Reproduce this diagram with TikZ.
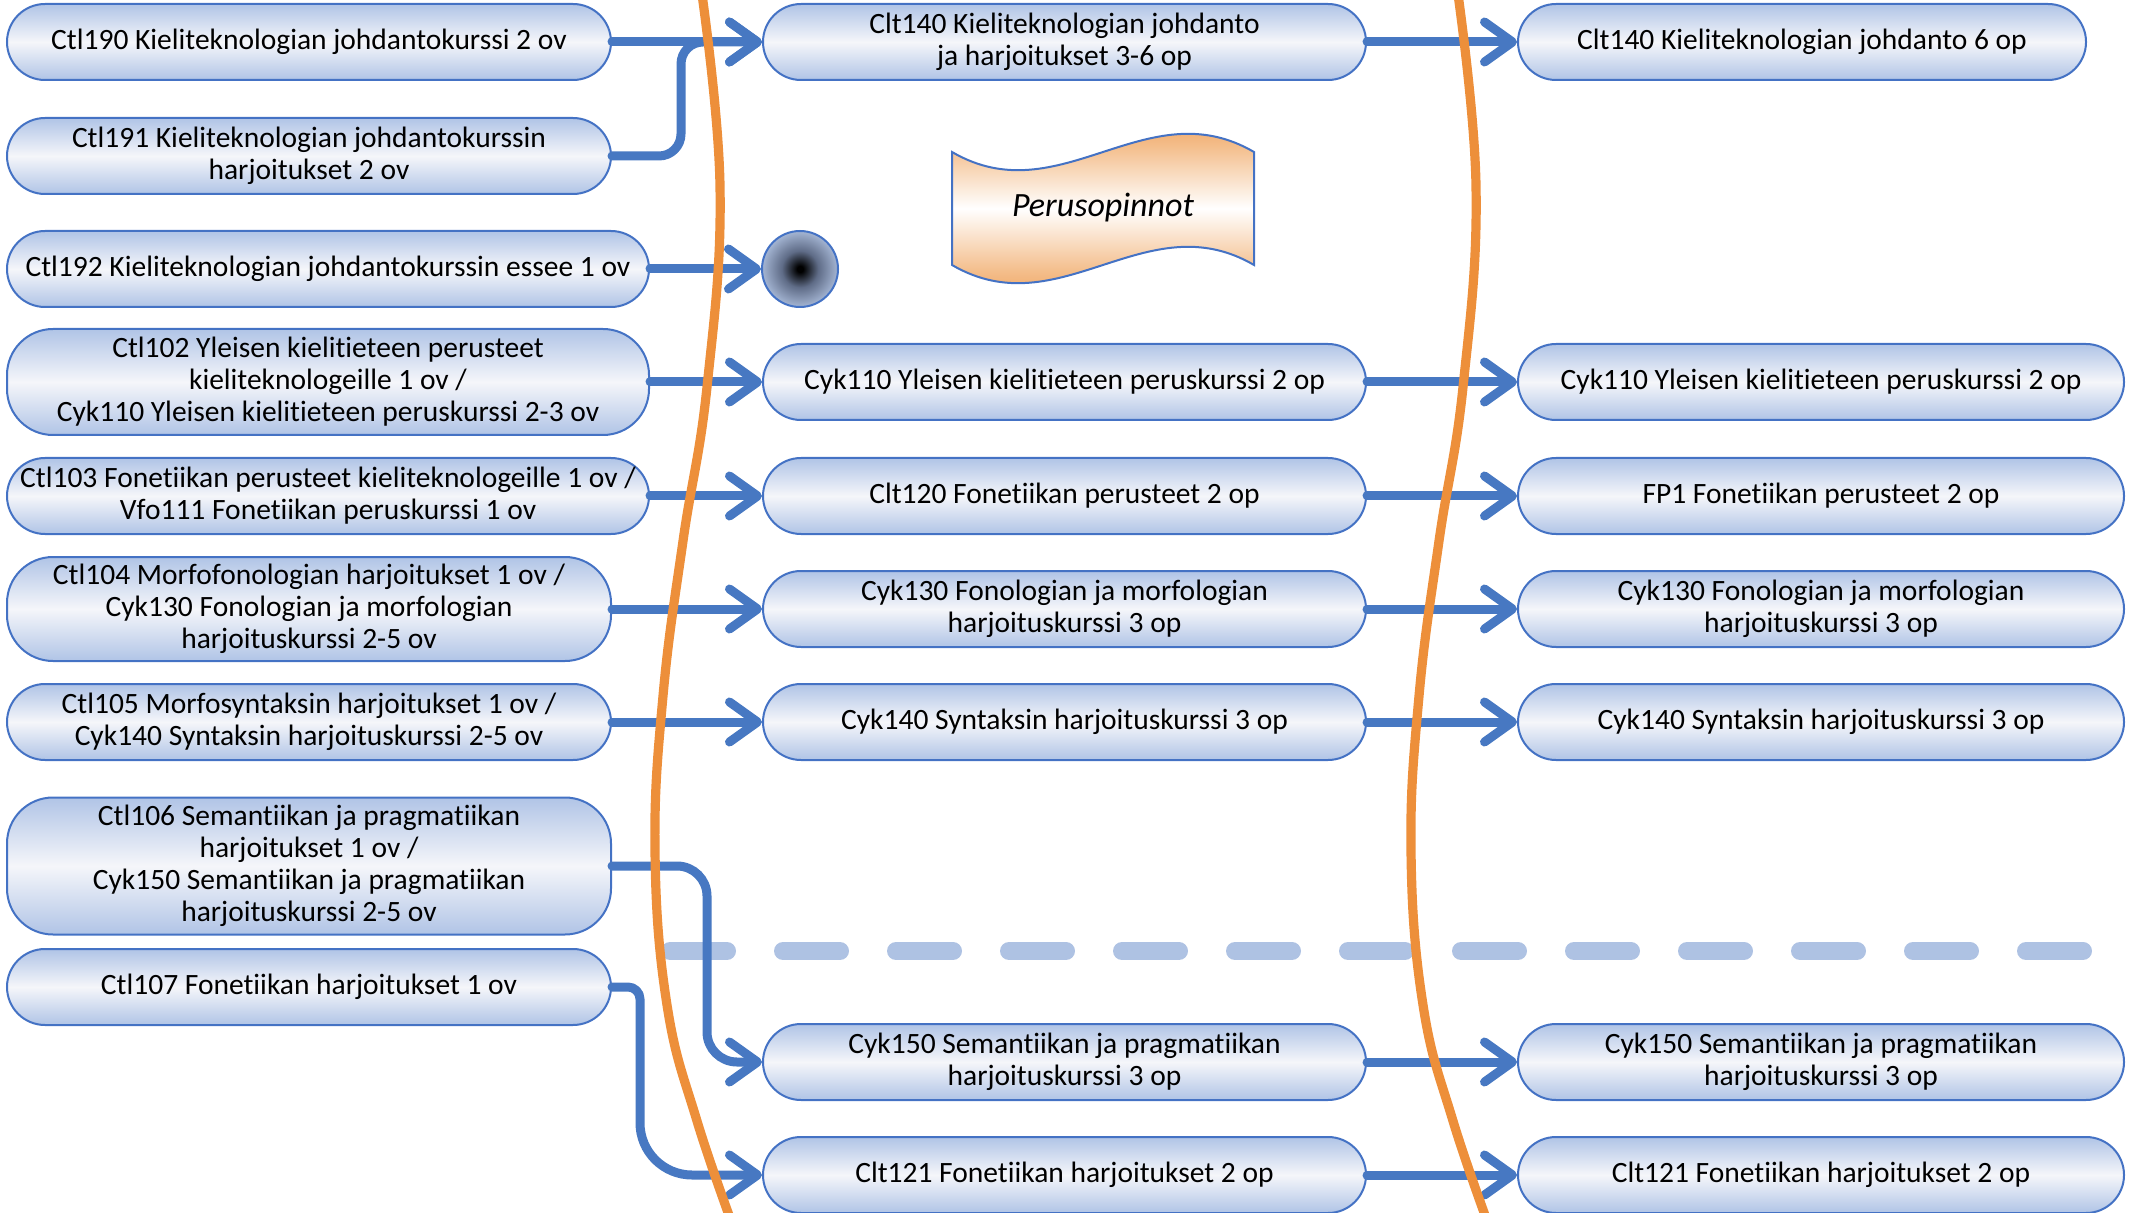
\documentclass[tikz,border=0pt]{standalone}
\usepackage{fontspec}
\setmainfont{Carlito}[Ligatures=CommonOff]
\usetikzlibrary{arrows.meta}
\definecolor{nodeblue}{RGB}{176,196,230}
\definecolor{nodemid}{RGB}{245,246,250}
\definecolor{edgeblue}{RGB}{68,114,196}
\definecolor{connblue}{RGB}{71,120,194}
\definecolor{curveorange}{RGB}{237,143,58}
\definecolor{bannerorange}{RGB}{236,140,52}
\definecolor{bannerlight}{RGB}{244,190,140}
\definecolor{dashblue}{RGB}{174,194,227}
\definecolor{dotmid}{RGB}{95,108,135}
\definecolor{dotouter}{RGB}{165,182,212}
\pgfdeclareradialshading{dotshade}{\pgfpoint{0bp}{0bp}}{color(0bp)=(black); color(2bp)=(black); color(12bp)=(dotmid); color(25bp)=(dotouter); color(50bp)=(dotouter)}
\pgfdeclareverticalshading{bannershade}{100bp}{color(0bp)=(bannerorange); color(25bp)=(bannerorange); color(37bp)=(bannerlight); color(50bp)=(white); color(63bp)=(bannerlight); color(75bp)=(bannerorange); color(100bp)=(bannerorange)}
\begin{document}
\begin{tikzpicture}[x=0.5pt,y=-0.5pt,
  course/.style={draw=edgeblue, line width=1pt, rounded corners=19pt,
    top color=nodeblue, bottom color=nodeblue, middle color=nodemid,
    align=center, inner sep=0pt, minimum height=38pt, text=black,
    font=\fontsize{14.75pt}{16pt}\selectfont},
  leftw/.style={minimum width=302pt},
  leftwide/.style={minimum width=321pt},
  midw/.style={minimum width=301.5pt},
  rightw/.style={minimum width=303pt},
  tall/.style={rounded corners=23pt},
  conn/.style={draw=connblue, line width=4.5pt, line cap=round, line join=round,
    -{Straight Barb[length=14pt,width=20pt,round]}},
  boundary/.style={draw=curveorange, line width=4.6pt},
  divider/.style={draw=dashblue, line width=9pt, line cap=round, dash pattern=on 28.5pt off 28pt}
]
\useasboundingbox (0,0) rectangle (2129,1213);

% dashed divider
\draw[divider] (670,951) -- (2090,951);

% banner
\shade[shading=bannershade]
  (952,152) .. controls (1060,215) and (1146,89) .. (1254,152)
  -- (1254,265) .. controls (1146,202) and (1060,328) .. (952,265) -- cycle;
\draw[draw=edgeblue, line width=1pt]
  (952,152) .. controls (1060,215) and (1146,89) .. (1254,152)
  -- (1254,265) .. controls (1146,202) and (1060,328) .. (952,265) -- cycle;
\node[font=\fontsize{17pt}{20pt}\selectfont\itshape, text=black] (banner) at (1103,208) {Perusopinnot};

% left column
\node[course, leftw] (l190) at (309,42) {Ctl190 Kieliteknologian johdantokurssi 2 ov};
\node[course, leftw] (l191) at (309,156) {Ctl191 Kieliteknologian johdantokurssin\\harjoitukset 2 ov};
\node[course, leftwide] (l192) at (328,269) {Ctl192 Kieliteknologian johdantokurssin essee 1 ov};
\node[course, leftwide, tall, minimum height=53pt] (l102) at (328,382) {Ctl102 Yleisen kielitieteen perusteet\\kieliteknologeille 1 ov /\\Cyk110 Yleisen kielitieteen peruskurssi 2-3 ov};
\node[course, leftwide] (l103) at (328,496) {Ctl103 Fonetiikan perusteet kieliteknologeille 1 ov /\\Vfo111 Fonetiikan peruskurssi 1 ov};
\node[course, leftw, tall, minimum height=52pt] (l104) at (309,609) {Ctl104 Morfofonologian harjoitukset 1 ov /\\Cyk130 Fonologian ja morfologian\\harjoituskurssi 2-5 ov};
\node[course, leftw] (l105) at (309,722) {Ctl105 Morfosyntaksin harjoitukset 1 ov /\\Cyk140 Syntaksin harjoituskurssi 2-5 ov};
\node[course, leftw, tall, minimum height=68.5pt] (l106) at (309,866) {Ctl106 Semantiikan ja pragmatiikan\\harjoitukset 1 ov /\\Cyk150 Semantiikan ja pragmatiikan\\harjoituskurssi 2-5 ov};
\node[course, leftw] (l107) at (309,987) {Ctl107 Fonetiikan harjoitukset 1 ov};

% middle column
\node[course, midw] (m140) at (1064.5,42) {Clt140 Kieliteknologian johdanto\\ja harjoitukset 3-6 op};
\node[circle, draw=edgeblue, line width=1pt, minimum size=38pt, inner sep=0pt, shading=dotshade] (dot) at (800,269) {};
\node[course, midw] (m110) at (1064.5,382) {Cyk110 Yleisen kielitieteen peruskurssi 2 op};
\node[course, midw] (m120) at (1064.5,496) {Clt120 Fonetiikan perusteet 2 op};
\node[course, midw] (m130) at (1064.5,609) {Cyk130 Fonologian ja morfologian\\harjoituskurssi 3 op};
\node[course, midw] (m140s) at (1064.5,722) {Cyk140 Syntaksin harjoituskurssi 3 op};
\node[course, midw] (m150) at (1064.5,1062) {Cyk150 Semantiikan ja pragmatiikan\\harjoituskurssi 3 op};
\node[course, midw] (m121) at (1064.5,1175) {Clt121 Fonetiikan harjoitukset 2 op};

% right column
\node[course, minimum width=284pt] (r140) at (1802,42) {Clt140 Kieliteknologian johdanto 6 op};
\node[course, rightw] (r110) at (1821,382) {Cyk110 Yleisen kielitieteen peruskurssi 2 op};
\node[course, rightw] (r120) at (1821,496) {FP1 Fonetiikan perusteet 2 op};
\node[course, rightw] (r130) at (1821,609) {Cyk130 Fonologian ja morfologian\\harjoituskurssi 3 op};
\node[course, rightw] (r140s) at (1821,722) {Cyk140 Syntaksin harjoituskurssi 3 op};
\node[course, rightw] (r150) at (1821,1062) {Cyk150 Semantiikan ja pragmatiikan\\harjoituskurssi 3 op};
\node[course, rightw] (r121) at (1821,1175) {Clt121 Fonetiikan harjoitukset 2 op};

% connectors left -> middle
\draw[conn] (l190.east) -- (m140.west);
\draw[conn, rounded corners=11pt] (l191.east) -- (681,156) -- (681,42) -- (m140.west);
\draw[conn] (l192.east) -- (dot.west);
\draw[conn] (l102.east) -- (m110.west);
\draw[conn] (l103.east) -- (m120.west);
\draw[conn] (l104.east) -- (m130.west);
\draw[conn] (l105.east) -- (m140s.west);
\draw[conn, rounded corners=15pt] (l106.east) -- (707,866) -- (707,1062) -- (m150.west);
\draw[conn] (l107.east) [rounded corners=6pt] -- (640,987) [rounded corners=26pt] -- (640,1175) -- (m121.west);

% connectors middle -> right
\draw[conn] (m140.east) -- (r140.west);
\draw[conn] (m110.east) -- (r110.west);
\draw[conn] (m120.east) -- (r120.west);
\draw[conn] (m130.east) -- (r130.west);
\draw[conn] (m140s.east) -- (r140s.west);
\draw[conn] (m150.east) -- (r150.west);
\draw[conn] (m121.east) -- (r121.west);

% orange boundaries
\draw[boundary] plot[smooth, tension=0.7] coordinates {(700,-20) (720,186) (707,387) (683,541) (663,696) (655,851) (667,1005) (697,1121) (738,1240)};
\draw[boundary] plot[smooth, tension=0.7] coordinates {(1456,-20) (1476,186) (1463,387) (1439,541) (1419,696) (1411,851) (1423,1005) (1453,1121) (1494,1240)};
\end{tikzpicture}
\end{document}
